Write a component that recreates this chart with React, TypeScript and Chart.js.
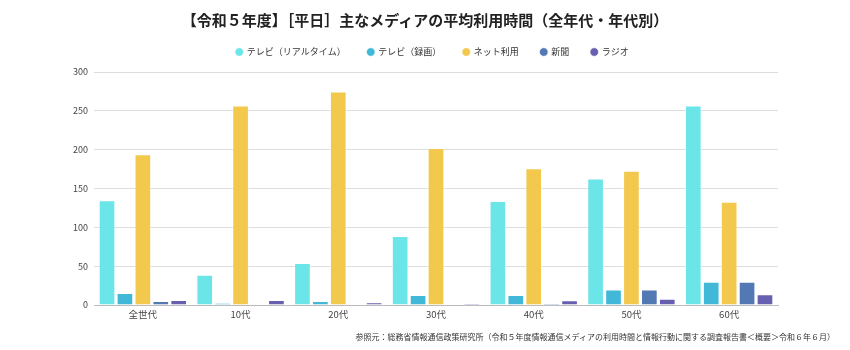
import React, { useEffect, useRef } from "react";
import { Chart, registerables } from "chart.js";

Chart.register(...registerables);

const categories = ["全世代", "10代", "20代", "30代", "40代", "50代", "60代"];
const seriesNames = ["テレビ（リアルタイム）", "テレビ（録画）", "ネット利用", "新聞", "ラジオ"];
const tvRealtime = [135, 39, 54, 89, 134, 163, 257];
const tvRecorded = [15.5, 2.6, 5, 13, 13, 20, 30];
const internet = [194, 257, 275, 202, 176, 173, 133];
const newspaper = [5, 0, 0, 0, 2, 20, 30];
const radio = [6.5, 6.5, 3.5, 1.7, 6, 8, 14];
const colors = ["#6ce5e8", "#42b8d8", "#f2c94c", "#5279b3", "#675fb0"];
const yTicks = [0, 50, 100, 150, 200, 250, 300];

const titleText = "【令和５年度】［平日］主なメディアの平均利用時間（全年代・年代別）";
const sourceText =
  "参照元：総務省情報通信政策研究所（令和５年度情報通信メディアの利用時間と情報行動に関する調査報告書＜概要＞令和６年６月）";

const FONT = "'Noto Sans CJK JP', 'Noto Sans', sans-serif";

const legendSpacing = {
  id: "legendSpacing",
  beforeInit(chart: any) {
    const lg: any = chart.legend;
    if (!lg) return;
    const orig = lg.fit;
    lg.fit = function () {
      orig.call(this);
      this.height += 5.5;
    };
  },
};

export default function App() {
  const ref = useRef<HTMLCanvasElement | null>(null);
  useEffect(() => {
    if (!ref.current) return;
    const values = [tvRealtime, tvRecorded, internet, newspaper, radio];
    const chart = new Chart(ref.current, {
      type: "bar",
      data: {
        labels: categories,
        datasets: seriesNames.map((name, i) => ({
          label: name,
          data: values[i],
          backgroundColor: colors[i],
          borderColor: "rgba(255,255,255,0.55)",
          borderWidth: 1,
          categoryPercentage: 0.917,
          barPercentage: 0.93,
        })),
      },
      plugins: [legendSpacing],
      options: {
        responsive: false,
        animation: false,
        layout: { padding: { left: 87, right: 72, top: 25.5, bottom: 25.6 } },
        plugins: {
          title: { display: false },
          legend: {
            display: true,
            position: "top",
            labels: {
              usePointStyle: true,
              pointStyle: "circle",
              boxWidth: 6,
              boxHeight: 6,
              padding: 22,
              color: "#333",
              font: { family: FONT, size: 9 },
            },
          },
          tooltip: { enabled: false },
        },
        scales: {
          x: {
            grid: { display: true, drawOnChartArea: false, drawTicks: false },
            border: { display: true, color: "#bbb", width: 1 },
            ticks: { color: "#444", font: { family: FONT, size: 9.5 }, padding: 4 },
          },
          y: {
            min: 0,
            max: 300,
            afterFit: (scale: any) => {
              scale.width = 7;
              scale._computeLabelArea = () => undefined;
            },
            afterBuildTicks: (axis: any) => {
              axis.ticks = yTicks.map((v) => ({ value: v }));
            },
            grid: { color: "#dddddd", lineWidth: 1, drawTicks: false },
            border: { display: false },
            ticks: { color: "#444", font: { family: FONT, size: 9 }, padding: 6 },
          },
        },
      },
    });
    return () => chart.destroy();
  }, []);
  return (
    <div style={{ position: "absolute", left: 0, top: 0, width: 850, height: 350, background: "#fff" }}>
      <canvas ref={ref} width={850} height={350} style={{ position: "absolute", left: 0, top: 0 }} />
      <div
        style={{
          position: "absolute",
          left: 0,
          top: 10,
          width: 850,
          textAlign: "center",
          fontFamily: FONT,
          fontSize: 15,
          fontWeight: "bold",
          lineHeight: "20px",
          color: "#222",
        }}
      >
        {titleText}
      </div>
      <div
        style={{
          position: "absolute",
          right: 15,
          top: 332,
          fontFamily: FONT,
          fontSize: 8,
          lineHeight: "10px",
          color: "#333",
          whiteSpace: "nowrap",
        }}
      >
        {sourceText}
      </div>
    </div>
  );
}
